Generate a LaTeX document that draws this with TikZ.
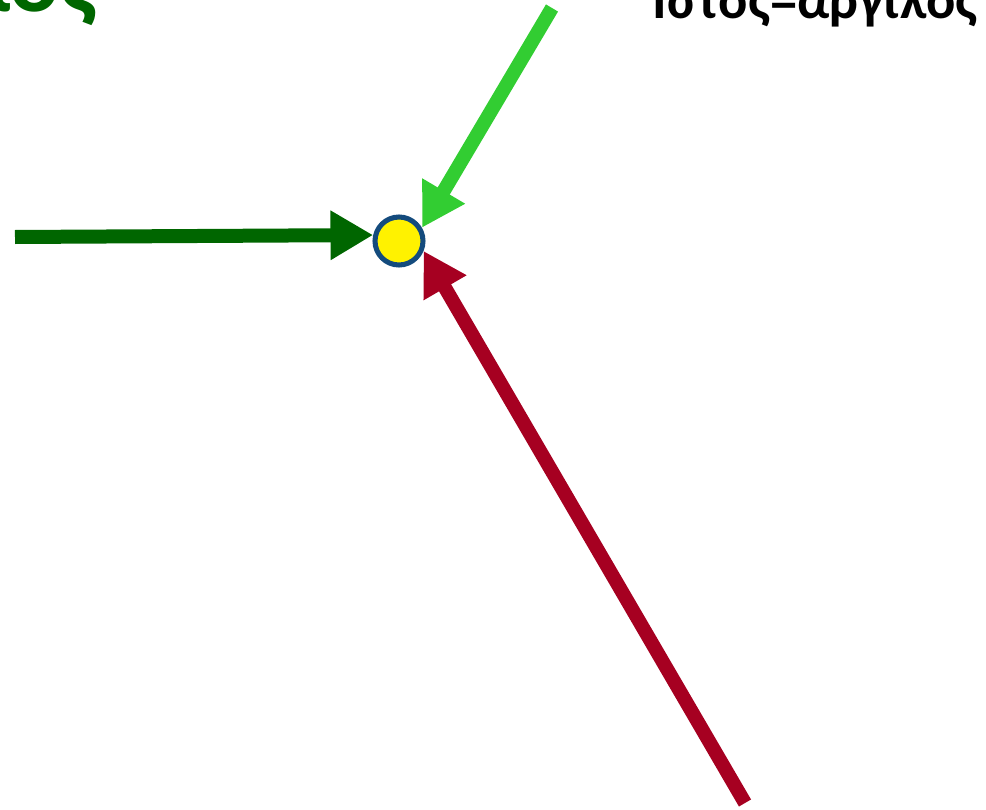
\documentclass[tikz,border=0pt]{standalone}
\usepackage{fontspec}
\setmainfont{Carlito}
\usetikzlibrary{arrows.meta}
\definecolor{dgreen}{RGB}{0,102,0}
\definecolor{lgreen}{RGB}{50,205,50}
\definecolor{dred}{RGB}{166,0,33}
\definecolor{ringblue}{RGB}{20,75,125}
\tikzset{
  fatarrow/.style={line width=10.5pt,-{Triangle[width=35pt,length=32pt]}},
  lbl/.style={inner sep=0pt,font=\bfseries}
}
\begin{document}
\begin{tikzpicture}[x=0.75pt,y=-0.75pt]
\useasboundingbox (0,0) rectangle (986,810);
\node[circle,fill=yellow,draw=ringblue,line width=3.8pt,minimum size=36pt,inner sep=0pt] (pt) at (399,241) {};
\coordinate (gs) at (15,237);
\coordinate (ls) at (552,8);
\coordinate (rs) at (745,803);
\draw[fatarrow,dgreen] (gs) -- (pt.167);
\draw[fatarrow,lgreen] (ls) -- (pt.30);
\draw[fatarrow,dred] (rs) -- (pt.-22);
\node[lbl,anchor=base east,text=dgreen,font=\bfseries\fontsize{70}{72}\selectfont] (tl) at (98,12) {Πηλός};
\node[lbl,anchor=base east,font=\bfseries\fontsize{41}{43}\selectfont] (tr) at (978,18) {Ιστος=άργιλος};
\end{tikzpicture}
\end{document}
